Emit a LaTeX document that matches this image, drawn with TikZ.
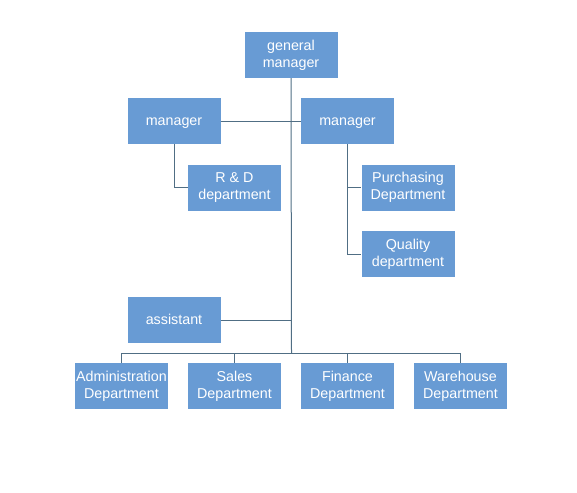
\documentclass[tikz,border=0pt]{standalone}
\usepackage{fontspec}
\setmainfont{Liberation Sans}
\definecolor{boxblue}{RGB}{104,155,212}
\definecolor{linegray}{RGB}{80,110,132}
\newcommand\orgstrut{\rule[-2.9pt]{0pt}{14.1pt}}
\tikzset{
	orgbox/.style={fill=boxblue,text=white,align=center,minimum width=93pt,minimum height=46pt,
	inner sep=1pt,font=\fontsize{14.3}{17}\selectfont,execute at begin node=\orgstrut},
	orgline/.style={draw=linegray,line width=1pt}
}
\begin{document}
\begin{tikzpicture}[x=1pt,y=-1pt]

		\useasboundingbox (0,0) rectangle (577,492);

		\node (GM) at (291,55) [orgbox] {general\\manager};
		\node (MGL) at (174,121) [orgbox] {manager};
		\node (MGR) at (347.5,121) [orgbox] {manager};

		\node (RD) at (234.5,187.5) [orgbox] {R \& D\\department};
		\node (PUR) at (408,187.5) [orgbox] {Purchasing\\Department};
		\node (QUA) at (408,254) [orgbox] {Quality\\department};

		\node (AST) at (174,320) [orgbox] {assistant};

		\node (ADM) at (121.5,386) [orgbox] {Administration\\Department};
		\node (SAL) at (234.5,386) [orgbox] {Sales\\Department};
		\node (FIN) at (347.5,386) [orgbox] {Finance\\Department};
		\node (WH) at (460.5,386) [orgbox] {Warehouse\\Department};

		\coordinate (BUS) at (291.5,353);

		\draw [orgline] (GM.south) -- (BUS);
		\draw [orgline] (MGL.east) -- (MGR.west);
		\draw [orgline] (MGL.south) |- (RD.west);
		\draw [orgline] (MGR.south) |- (QUA.west);
		\draw [orgline] (MGR.south |- PUR.west) -- (PUR.west);
		\draw [orgline] (AST.east) -- (AST.east -| BUS);

		\draw [orgline] (ADM.north |- BUS) -- (WH.north |- BUS);
		\draw [orgline] (ADM.north) -- (ADM.north |- BUS);
		\draw [orgline] (SAL.north) -- (SAL.north |- BUS);
		\draw [orgline] (FIN.north) -- (FIN.north |- BUS);
		\draw [orgline] (WH.north) -- (WH.north |- BUS);

\end{tikzpicture}
\end{document}
